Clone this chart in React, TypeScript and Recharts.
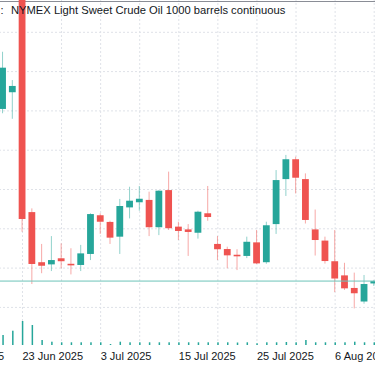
import React from 'react';
import { ComposedChart, Bar, XAxis, YAxis, ReferenceLine } from 'recharts';

// ---- data ----
const dates = [
  '19 Jun', '20 Jun', '23 Jun', '24 Jun', '25 Jun', '26 Jun', '27 Jun', '30 Jun',
  '1 Jul', '2 Jul', '3 Jul', '4 Jul', '7 Jul', '8 Jul', '9 Jul', '10 Jul', '11 Jul',
  '14 Jul', '15 Jul', '16 Jul', '17 Jul', '18 Jul', '21 Jul', '22 Jul', '23 Jul',
  '24 Jul', '25 Jul', '28 Jul', '29 Jul', '30 Jul', '31 Jul', '1 Aug', '4 Aug',
  '5 Aug', '6 Aug', '7 Aug', '8 Aug', '11 Aug', '12 Aug',
];
const opens = [72.10, 72.95, 78.05, 66.85, 64.30, 64.19, 64.50, 64.22, 64.16, 64.72, 66.69, 66.35, 65.60, 67.09, 67.35, 67.47, 66.08, 67.97, 66.11, 65.97, 65.80, 66.79, 65.23, 64.97, 64.68, 64.62, 65.31, 64.30, 66.24, 68.53, 69.54, 68.53, 65.97, 65.40, 64.35, 63.63, 62.99, 62.30, 63.22];
const highs = [75.01, 73.57, 78.66, 67.04, 65.23, 65.63, 65.26, 65.01, 65.18, 66.79, 66.79, 66.41, 67.52, 68.14, 68.18, 67.89, 67.96, 68.91, 66.36, 66.24, 66.92, 68.18, 65.63, 65.09, 64.96, 65.60, 65.94, 66.36, 68.99, 69.76, 69.67, 68.82, 66.98, 65.60, 65.94, 64.27, 63.77, 63.65, 63.39];
const lows = [71.88, 71.60, 65.85, 63.19, 63.74, 63.85, 63.99, 63.68, 63.85, 64.41, 65.74, 65.23, 64.72, 66.53, 66.92, 65.63, 65.68, 65.94, 65.43, 64.62, 65.50, 66.41, 64.41, 63.99, 63.90, 64.51, 64.21, 64.22, 65.74, 67.67, 67.80, 66.27, 64.64, 64.23, 62.78, 62.89, 61.95, 62.19, 63.09];
const closes = [74.20, 73.27, 66.50, 64.21, 64.12, 64.41, 64.35, 64.14, 64.75, 66.75, 66.36, 65.55, 67.16, 67.43, 67.53, 66.08, 67.94, 66.03, 65.89, 65.84, 66.87, 66.60, 64.96, 64.65, 64.60, 65.34, 64.24, 66.18, 68.48, 69.54, 68.60, 66.45, 65.43, 64.36, 63.47, 62.97, 62.72, 63.19, 63.34];
const volumes = [100, 143, 240, 200, 50, 33, 27, 27, 27, 27, 27, 10, 33, 27, 27, 27, 27, 27, 27, 27, 27, 27, 27, 27, 25, 27, 17, 27, 27, 30, 27, 50, 27, 27, 27, 27, 33, 27, 27];

const tickIdx = [-6, 2, 10, 18, 26, 34];
const tickLabels = ['11 Jun 2025', '23 Jun 2025', '3 Jul 2025', '15 Jul 2025', '25 Jul 2025', '6 Aug 2025'];
const gridIdx = [-6, -2, 2, 6, 10, 14, 18, 22, 26, 30, 34, 38];
const gridPrices = [62, 64, 66, 68, 70, 72, 74, 76];
const title = 'NYMEX Light Sweet Crude Oil 1000 barrels continuous';

const data = dates.map((d, i) => ({
  i,
  date: d,
  open: opens[i],
  high: highs[i],
  low: lows[i],
  close: closes[i],
  volume: volumes[i],
  range: [lows[i], highs[i]],
}));
const lastPrice = closes[closes.length - 1];

const UP = '#26a69a';
const DOWN = '#ef5350';
const FONT = '"Liberation Sans", Arial, sans-serif';
const TEXT = '#131722';
const X_DOMAIN: [number, number] = [-9, 41];
const P_DOMAIN: [number, number] = [60.087, 77.644];
const CW = 488.5;
const CH = 366;
const MARGIN = { top: 0, right: 0, bottom: 0, left: 0 };

const Candle = (props: any) => {
  const { x, y, width, height, payload } = props;
  const { open, close, high, low } = payload;
  const up = close >= open;
  const color = up ? UP : DOWN;
  const ratio = height / (high - low);
  const cx = x + width / 2;
  const bodyTop = y + (high - Math.max(open, close)) * ratio;
  const bodyH = Math.max(Math.abs(open - close) * ratio, 1.2);
  return (
    <g>
      <line x1={cx} x2={cx} y1={y} y2={y + height} stroke={color} strokeOpacity={0.5} strokeWidth={1} />
      <rect x={cx - 3.4} y={bodyTop} width={6.8} height={bodyH} fill={color} />
    </g>
  );
};

const Vol = (props: any) => {
  const { x, y, width, height } = props;
  const cx = x + width / 2;
  return <rect x={cx - 0.75} y={y} width={1.5} height={height} fill={UP} />;
};

const Tick = (props: any) => {
  const { x, y, payload } = props;
  const k = tickIdx.indexOf(payload.value);
  return (
    <text x={x} y={y} dy={14.5} textAnchor="start" fontFamily={FONT} fontSize={11} fill={TEXT}>
      {k >= 0 ? tickLabels[k] : ''}
    </text>
  );
};

// axes shared by the background (grid) chart and the foreground chart
const axes = (showTicks: boolean) => [
  <XAxis
    key="xm"
    xAxisId="main"
    dataKey="i"
    type="number"
    domain={X_DOMAIN}
    allowDataOverflow
    ticks={tickIdx}
    interval={0}
    tick={showTicks ? <Tick /> : false}
    tickLine={false}
    axisLine={false}
    tickSize={0}
    tickMargin={0}
    height={21}
  />,
  <YAxis key="yp" yAxisId="price" domain={P_DOMAIN} allowDataOverflow hide />,
];

export default function App() {
  return (
    <div style={{ position: 'absolute', left: 0, top: 0, width: 375, height: 366, overflow: 'hidden', background: '#fff' }}>
      <div style={{ position: 'absolute', left: 0, top: 1, width: 375, height: 1, background: '#8a8d96' }} />
      {/* background: grid lines */}
      <div style={{ position: 'absolute', left: -85, top: 0 }}>
        <ComposedChart width={CW} height={CH} data={data} margin={MARGIN}>
          {axes(false)}
          {gridPrices.map((p) => (
            <ReferenceLine key={'h' + p} xAxisId="main" yAxisId="price" y={p} stroke="#dfe2e8" strokeDasharray="2 2" />
          ))}
          {gridIdx.map((g) => (
            <ReferenceLine key={'v' + g} xAxisId="main" yAxisId="price" x={g} stroke="#dfe2e8" strokeDasharray="2 2" />
          ))}
        </ComposedChart>
      </div>
      {/* foreground: candles, volume, last price line */}
      <div style={{ position: 'absolute', left: -85, top: 0 }}>
        <ComposedChart width={CW} height={CH} data={data} margin={MARGIN}>
          {axes(true)}
          <XAxis xAxisId="vol" dataKey="i" type="number" domain={X_DOMAIN} allowDataOverflow hide />
          <YAxis yAxisId="vol" domain={[0, 3450]} allowDataOverflow hide />
          <Bar xAxisId="vol" yAxisId="vol" dataKey="volume" barSize={2} shape={<Vol />} isAnimationActive={false} />
          <Bar xAxisId="main" yAxisId="price" dataKey="range" barSize={7} shape={<Candle />} isAnimationActive={false} />
          <ReferenceLine xAxisId="main" yAxisId="price" y={lastPrice} stroke="#6cc3b9" strokeWidth={1} />
        </ComposedChart>
      </div>
      <svg width={375} height={366} style={{ position: 'absolute', left: 0, top: 0, pointerEvents: 'none' }}>
        <text x={0.5} y={14} fontFamily={FONT} fontSize={11} fill={TEXT}>:</text>
        <text x={11} y={14} fontFamily={FONT} fontSize={11.2} fill={TEXT}>{title}</text>
      </svg>
    </div>
  );
}
